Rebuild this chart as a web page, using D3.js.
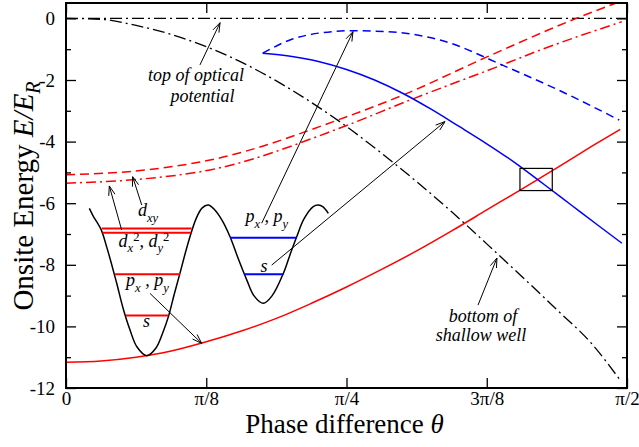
<!DOCTYPE html>
<html>
<head>
<meta charset="utf-8">
<script src="https://cdn.jsdelivr.net/npm/d3@7/dist/d3.min.js"></script>
<style>
  body { margin: 0; background: #fff; }
</style>
</head>
<body>
<div id="viz"></div>
<script>
// phase difference is kept in units of pi (0 .. 0.5)
var xTicks = [0, 0.125, 0.25, 0.375, 0.5];
var xTickLabels = ['0', 'π/8', 'π/4', '3π/8', 'π/2'];
var yTicks = [0, -2, -4, -6, -8, -10, -12];
var yMinorTicks = [-1, -3, -5, -7, -9, -11];

// deep well bands (red)
var redSolidTheta = [0, 0.03125, 0.0625, 0.09375, 0.125, 0.15625, 0.1875, 0.21875, 0.25, 0.28125, 0.3125, 0.34375, 0.375, 0.40625, 0.4375, 0.46875, 0.494];
var redSolidE = [-11.16, -11.12, -11.0, -10.8, -10.5, -10.15, -9.74, -9.25, -8.72, -8.15, -7.55, -6.9, -6.22, -5.54, -4.85, -4.15, -3.6];
var redDashTheta = [0, 0.066, 0.1283, 0.2496, 0.3004, 0.3752, 0.4581, 0.494];
var redDashE = [-5.08, -4.94, -4.6, -3.2, -2.49, -1.25, 0.05, 0.55];
var redDashDotTheta = [0, 0.066, 0.1283, 0.2442, 0.3066, 0.393, 0.4225, 0.4953];
var redDashDotE = [-5.35, -5.22, -4.92, -3.56, -2.65, -1.45, -1.03, -0.11];

// shallow well bands (blue)
var blueSolidTheta = [0.1753, 0.2, 0.225, 0.25, 0.275, 0.3, 0.325, 0.35, 0.375, 0.4, 0.425, 0.45, 0.475, 0.4955];
var blueSolidE = [-1.13, -1.23, -1.4, -1.66, -2.0, -2.43, -2.94, -3.5, -4.07, -4.68, -5.36, -6.05, -6.74, -7.3];
var blueDashTheta = [0.1753, 0.1996, 0.2291, 0.2558, 0.2858, 0.3333, 0.393, 0.4519, 0.4931];
var blueDashE = [-1.13, -0.7, -0.46, -0.4, -0.43, -0.7, -1.58, -2.55, -3.3];

// potential reference lines (black dash-dot)
var topTheta = [0, 0.5];
var topE = [0, 0];
var bottomTheta = [0, 0.03125, 0.0625, 0.09375, 0.125, 0.15625, 0.1875, 0.21875, 0.25, 0.28125, 0.3125, 0.34375, 0.375, 0.40625, 0.4375, 0.46875, 0.494];
var bottomE = [0, -0.03, -0.23, -0.52, -0.92, -1.42, -2.03, -2.73, -3.51, -4.38, -5.3, -6.28, -7.32, -8.38, -9.46, -10.57, -11.75];

// inset: sketch of the double well, drawn in the same axes
var wellTheta = [0.0208, 0.0240, 0.0312, 0.0365, 0.0401, 0.0452, 0.0508, 0.0570, 0.0633, 0.0719, 0.0802, 0.0865, 0.0912, 0.0963, 0.1016, 0.1061, 0.1105, 0.1159, 0.1212, 0.1268, 0.1319, 0.1390, 0.1462, 0.1533, 0.1611, 0.1676, 0.1759, 0.1836, 0.1937, 0.1996, 0.2056, 0.2121, 0.2204, 0.2249, 0.2291, 0.2338];
var wellE = [-6.17, -6.4, -6.85, -7.45, -7.91, -8.6, -9.4, -10.11, -10.67, -10.95, -10.7, -10.18, -9.69, -8.98, -8.27, -7.65, -7.09, -6.51, -6.16, -6.06, -6.19, -6.55, -7.09, -7.78, -8.49, -9.01, -9.25, -9.01, -8.28, -7.68, -7.09, -6.51, -6.11, -6.06, -6.12, -6.33];
var levelE = [-6.82, -6.96, -8.31, -9.65, -7.12, -8.31];
var levelFrom = [0.0318, 0.0325, 0.0437, 0.0535, 0.1462, 0.1586];
var levelTo = [0.1120, 0.1114, 0.1016, 0.0912, 0.2056, 0.1937];
var levelColor = ['#ff0000', '#ff0000', '#ff0000', '#ff0000', '#0000ff', '#0000ff'];

// crossing box
var boxTheta = [0.4046, 0.4334];
var boxE = [-4.87, -5.59];

// arrows: tail -> head
var arrowFromTheta = [0.1194, 0.3672, 0.0496, 0.0675, 0.0749, 0.1744, 0.1833];
var arrowFromE = [-1.51, -9.31, -6.87, -6.06, -8.93, -6.65, -8.01];
var arrowToTheta = [0.1373, 0.3841, 0.0386, 0.0594, 0.1209, 0.2558, 0.3378];
var arrowToE = [-0.14, -7.78, -5.44, -5.14, -10.55, -0.43, -3.35];

var FONT = "'Liberation Serif', 'Times New Roman', serif";
var W = 639, H = 447;
var x = d3.scaleLinear().domain([0, 0.5]).range([66, 627]);
var y = d3.scaleLinear().domain([-12, 0.5]).range([388, 3]);

var svg = d3.select('#viz').append('svg')
  .attr('width', W).attr('height', H)
  .attr('font-family', FONT)
  .style('display', 'block');

svg.append('defs').append('clipPath').attr('id', 'plotclip')
  .append('rect')
  .attr('x', x(0)).attr('y', y(0.5))
  .attr('width', x(0.5) - x(0)).attr('height', y(-12) - y(0.5));

// axes, ticks inward
function noLabels() { return ''; }
svg.append('g').attr('transform', 'translate(0,' + y(-12) + ')')
  .call(d3.axisBottom(x).tickValues(xTicks).tickSize(-10).tickPadding(4)
    .tickFormat(function(d, i) { return xTickLabels[i]; }));
svg.append('g').attr('transform', 'translate(0,' + y(0.5) + ')')
  .call(d3.axisTop(x).tickValues(xTicks).tickSize(-10).tickFormat(noLabels));
svg.append('g').attr('transform', 'translate(' + x(0) + ',0)')
  .call(d3.axisLeft(y).tickValues(yTicks).tickSize(-10).tickPadding(11)
    .tickFormat(function(d) { return d === 0 ? '0' : '-' + Math.abs(d); }));
svg.append('g').attr('transform', 'translate(' + x(0) + ',0)')
  .call(d3.axisLeft(y).tickValues(yMinorTicks).tickSize(-5).tickFormat(noLabels));
svg.append('g').attr('transform', 'translate(' + x(0.5) + ',0)')
  .call(d3.axisRight(y).tickValues(yTicks).tickSize(-10).tickFormat(noLabels));
svg.append('g').attr('transform', 'translate(' + x(0.5) + ',0)')
  .call(d3.axisRight(y).tickValues(yMinorTicks).tickSize(-5).tickFormat(noLabels));

svg.selectAll('.domain').remove();
svg.selectAll('g').attr('font-family', FONT).attr('font-size', 19);
svg.selectAll('.tick line').attr('stroke', '#000').attr('stroke-width', 1.3);
svg.selectAll('.tick text')
  .attr('font-family', FONT)
  .attr('font-size', 19)
  .attr('fill', '#000');

// curves
var line = d3.line()
  .x(function(d) { return x(d[0]); })
  .y(function(d) { return y(d[1]); })
  .curve(d3.curveMonotoneX);

var series = [
  { t: topTheta, e: topE, color: '#000', dash: '12,4,2,4', w: 1.3 },
  { t: bottomTheta, e: bottomE, color: '#000', dash: '12,4,2,4', w: 1.3 },
  { t: redDashTheta, e: redDashE, color: '#ff0000', dash: '9,5', w: 1.5 },
  { t: redDashDotTheta, e: redDashDotE, color: '#ff0000', dash: '10,4,2,4', w: 1.5 },
  { t: redSolidTheta, e: redSolidE, color: '#ff0000', dash: null, w: 1.5 },
  { t: blueDashTheta, e: blueDashE, color: '#0000ff', dash: '8,5', w: 1.5 },
  { t: blueSolidTheta, e: blueSolidE, color: '#0000ff', dash: null, w: 1.5 }
];

var curves = svg.append('g').attr('clip-path', 'url(#plotclip)');
series.forEach(function(s) {
  curves.append('path')
    .attr('d', line(d3.zip(s.t, s.e)))
    .attr('fill', 'none')
    .attr('stroke', s.color)
    .attr('stroke-width', s.w)
    .attr('stroke-dasharray', s.dash);
});

// inset well
curves.append('path')
  .attr('d', d3.line()
    .x(function(d) { return x(d[0]); })
    .y(function(d) { return y(d[1]); })
    .curve(d3.curveCatmullRom.alpha(0.5))(d3.zip(wellTheta, wellE)))
  .attr('fill', 'none').attr('stroke', '#000').attr('stroke-width', 1.5);

levelE.forEach(function(e, i) {
  curves.append('line')
    .attr('x1', x(levelFrom[i])).attr('x2', x(levelTo[i]))
    .attr('y1', y(e)).attr('y2', y(e))
    .attr('stroke', levelColor[i]).attr('stroke-width', 2);
});

// box around the crossing
curves.append('rect')
  .attr('x', x(boxTheta[0])).attr('y', y(boxE[0]))
  .attr('width', x(boxTheta[1]) - x(boxTheta[0]))
  .attr('height', y(boxE[1]) - y(boxE[0]))
  .attr('fill', 'none').attr('stroke', '#000').attr('stroke-width', 1.2);

// arrows
arrowFromTheta.forEach(function(t0, i) {
  var x1 = x(t0), y1 = y(arrowFromE[i]);
  var x2 = x(arrowToTheta[i]), y2 = y(arrowToE[i]);
  var a = Math.atan2(y2 - y1, x2 - x1), L = 10, s = 0.33;
  var p = 'M' + x1 + ',' + y1 + 'L' + x2 + ',' + y2 +
    'M' + (x2 - L * Math.cos(a - s)) + ',' + (y2 - L * Math.sin(a - s)) +
    'L' + x2 + ',' + y2 +
    'L' + (x2 - L * Math.cos(a + s)) + ',' + (y2 - L * Math.sin(a + s));
  svg.append('path').attr('d', p)
    .attr('fill', 'none').attr('stroke', '#000').attr('stroke-width', 1);
});

// rich text with sub/superscripts, centred
function richText(t, e, parts, size) {
  var txt = svg.append('text')
    .attr('x', x(t)).attr('y', y(e))
    .attr('text-anchor', 'middle')
    .attr('font-family', FONT)
    .attr('font-size', size)
    .attr('font-style', 'italic');
  var shift = 0;
  parts.forEach(function(p) {
    var target = p.sub ? size * 0.3 : (p.sup ? -size * 0.33 : 0);
    var ts = txt.append('tspan')
      .attr('dy', target - shift)
      .text(p.s);
    if (p.sub || p.sup) ts.attr('font-size', size * 0.7);
    if (p.up) ts.attr('font-style', 'normal');
    shift = target;
  });
  return txt;
}

var notes = [
  { t: 0.1159, e: -2.04, parts: [{ s: 'top of optical' }] },
  { t: 0.1217, e: -2.70, parts: [{ s: 'potential' }] },
  { t: 0.3717, e: -9.87, parts: [{ s: 'bottom of' }] },
  { t: 0.3699, e: -10.46, parts: [{ s: 'shallow well' }] },
  { t: 0.0731, e: -6.42, parts: [{ s: 'd' }, { s: 'xy', sub: true }] },
  { t: 0.0695, e: -7.42, parts: [{ s: 'd' }, { s: 'x', sub: true }, { s: '2', sup: true, up: true }, { s: ', d' }, { s: 'y', sub: true }, { s: '2', sup: true, up: true }] },
  { t: 0.0726, e: -8.70, parts: [{ s: 'p' }, { s: 'x', sub: true }, { s: ' , p' }, { s: 'y', sub: true }] },
  { t: 0.0717, e: -10.03, parts: [{ s: 's' }] },
  { t: 0.1789, e: -6.62, parts: [{ s: 'p' }, { s: 'x', sub: true }, { s: ' , p' }, { s: 'y', sub: true }] },
  { t: 0.1765, e: -8.24, parts: [{ s: 's' }] }
];
notes.forEach(function(n) { richText(n.t, n.e, n.parts, 18); });

// frame
svg.append('rect')
  .attr('x', x(0)).attr('y', y(0.5))
  .attr('width', x(0.5) - x(0)).attr('height', y(-12) - y(0.5))
  .attr('fill', 'none').attr('stroke', '#000').attr('stroke-width', 2);

// axis titles
var xt = svg.append('text')
  .attr('x', (x(0) + x(0.5)) / 2 - 2).attr('y', 433)
  .attr('text-anchor', 'middle')
  .attr('font-family', FONT).attr('font-size', 27);
xt.append('tspan').text('Phase difference ');
xt.append('tspan').attr('font-style', 'italic').text('θ');

var yt = svg.append('text')
  .attr('transform', 'translate(33,196) rotate(-90)')
  .attr('text-anchor', 'middle')
  .attr('font-family', FONT).attr('font-size', 29);
yt.append('tspan').text('Onsite Energy ');
yt.append('tspan').attr('font-style', 'italic').text('E/E');
yt.append('tspan').attr('font-style', 'italic').attr('font-size', 20).attr('dy', 7).text('R');
</script>
</body>
</html>
